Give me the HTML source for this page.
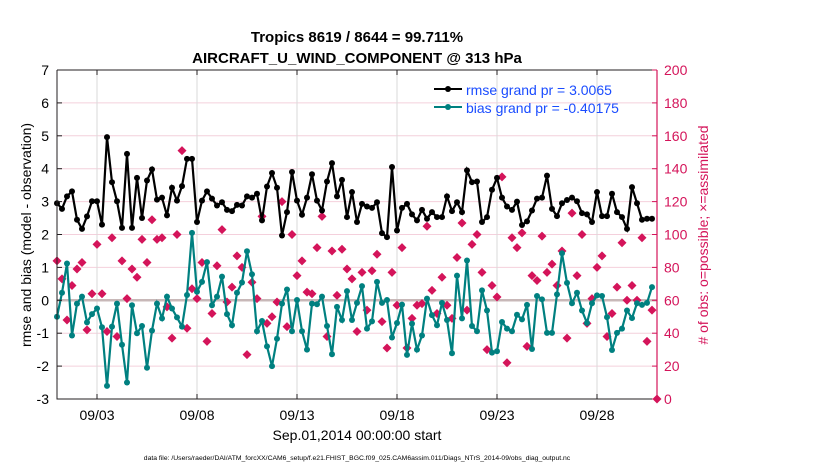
<!DOCTYPE html>
<html><head><meta charset="utf-8"><style>
html,body{margin:0;padding:0;background:#fff;}
svg{display:block;font-family:"Liberation Sans",Arial,sans-serif;}
</style></head><body>
<svg id="chart" width="830" height="470" viewBox="0 0 830 470">
<text x="357" y="42" text-anchor="middle" font-size="15" font-weight="bold">Tropics 8619 / 8644 = 99.711%</text>
<text x="357" y="63" text-anchor="middle" font-size="15" font-weight="bold">AIRCRAFT_U_WIND_COMPONENT @ 313 hPa</text>
<g id="grid"></g><g id="marks"></g><g id="axes"></g>
<text transform="translate(31,235) rotate(-90)" text-anchor="middle" font-size="14">rmse and bias (model - observation)</text>
<text transform="translate(708,235) rotate(-90)" text-anchor="middle" font-size="14" fill="#d4145a"># of obs: o=possible; ×=assimilated</text>
<text x="357" y="440" text-anchor="middle" font-size="14">Sep.01,2014 00:00:00 start</text>
<text x="357" y="460" text-anchor="middle" font-size="6.8">data file: /Users/raeder/DAI/ATM_forcXX/CAM6_setup/f.e21.FHIST_BGC.f09_025.CAM6assim.011/Diags_NTrS_2014-09/obs_diag_output.nc</text>
<g>
<line x1="434" y1="89" x2="462" y2="89" stroke="#000" stroke-width="2"/><circle cx="448" cy="89" r="3" fill="#000"/>
<text x="466" y="95" font-size="14" fill="#1a4cff">rmse grand pr = 3.0065</text>
<line x1="434" y1="107" x2="462" y2="107" stroke="#008080" stroke-width="2"/><circle cx="448" cy="107" r="3" fill="#008080"/>
<text x="466" y="113" font-size="14" fill="#1a4cff">bias grand pr = -0.40175</text>
</g>
</svg>
<script>
const tickDays=[3,8,13,18,23,28];
const tickLabels=["09/03","09/08","09/13","09/18","09/23","09/28"];
const leftTicks=[-3,-2,-1,0,1,2,3,4,5,6,7];
const rightTicks=[0,20,40,60,80,100,120,140,160,180,200];
const rmse=[2.95,2.78,3.16,3.31,2.45,2.17,2.55,3.01,3.01,2.3,4.96,3.59,3.01,2.2,4.45,2.2,3.72,2.5,3.64,3.98,3.06,3.12,2.58,3.42,3.03,3.47,4.3,4.3,2.38,3.03,3.31,
3.09,2.88,2.98,2.75,2.71,2.9,2.88,3.16,3.12,3.24,2.43,3.46,3.87,3.42,1.97,2.68,3.9,3.03,2.6,3.12,3.83,3.03,2.73,3.61,4.17,3.16,3.66,2.53,3.29,2.38,
2.93,2.85,2.81,2.98,2.04,1.92,4.05,2.12,2.81,2.93,2.61,2.43,2.75,2.48,2.68,2.53,2.53,3.16,2.71,2.98,2.68,3.95,3.59,3.61,2.38,2.53,3.36,3.72,3.12,2.85,
2.75,3.0,2.29,2.4,2.73,3.09,3.12,3.79,2.78,2.56,2.95,3.05,3.12,3.01,2.65,2.61,2.38,3.29,2.56,2.56,3.24,2.68,2.53,2.17,3.44,2.95,2.45,2.48,2.48];
const bias=[-0.5,0.23,1.12,-1.07,-0.1,0.11,-0.67,-0.42,-0.25,-0.82,-2.6,-0.8,-0.1,-1.35,-2.5,-0.15,-1.0,-0.78,-2.05,-0.92,-0.1,-0.55,0.11,-0.25,-0.52,-0.8,0.16,2.05,0.26,0.56,1.16,
-0.15,0.11,0.72,-0.42,-0.76,0.23,0.54,1.49,0.79,-0.94,-0.63,-1.4,-2.0,-1.17,-0.1,0.33,-0.94,0.01,-0.94,-1.5,-0.1,-0.12,0.11,-0.78,-1.64,-0.2,-0.6,0.28,-0.6,-0.08,
0.43,-0.86,-0.64,0.56,-0.08,0.01,-1.13,-0.69,-0.13,-1.66,-0.71,-1.5,-1.07,0.05,-0.45,-0.76,-0.08,-0.6,-1.61,0.75,-0.55,1.21,-0.78,-0.94,0.3,-0.31,-1.59,-1.55,-0.66,-0.86,
-0.94,-0.44,-0.58,-0.14,-1.48,0.13,0.03,-0.99,-0.99,0.18,1.43,0.53,-0.09,0.23,-0.31,-0.69,-0.09,0.15,0.13,-0.51,-1.51,-0.99,-0.86,-0.31,-0.54,-0.09,-0.14,-0.08,0.40];
const nobs=[84,73,48,69,79,83,42,64,94,64,41,98,38,84,61,79,74,97,83,109,97,98,56,37,100,151,43,67,61,83,35,
52,81,103,59,68,87,80,27,71,61,111,46,50,59,120,44,100,75,84,65,64,92,111,38,90,63,91,79,73,41,
77,54,78,88,47,31,77,57,92,31,49,57,58,105,66,52,74,57,49,86,107,54,94,100,77,30,69,62,135,22,
98,92,101,32,75,72,99,77,82,69,90,37,113,75,100,46,61,80,87,38,52,68,95,60,69,60,98,35,54,0];
const X0=57,X1=657,Y0=70,Y1=399,T0=1,T1=31;
const xs=t=>X0+(t-T0)/(T1-T0)*(X1-X0);
const yL=v=>Y1-(v+3)/10*(Y1-Y0);
const yR=v=>Y1-v/200*(Y1-Y0);
const tOf=i=>1+i*0.25;
const NS="http://www.w3.org/2000/svg";
function mk(tag,attrs,parent){const e=document.createElementNS(NS,tag);for(const k in attrs)e.setAttribute(k,attrs[k]);parent.appendChild(e);return e;}
const grid=document.getElementById('grid'),marks=document.getElementById('marks'),axes=document.getElementById('axes');
rightTicks.forEach(v=>{const l=mk('line',{x1:X0,x2:X1,y1:yR(v),y2:yR(v),stroke:'#f4d0dc','stroke-width':1},grid);

});
tickDays.forEach(d=>{const l=mk('line',{x1:xs(d),x2:xs(d),y1:Y0,y2:Y1,stroke:'#dadada','stroke-width':1},grid);

});
const zl=mk('line',{x1:X0,x2:X1,y1:yL(0),y2:yL(0),stroke:'#c8b8b8','stroke-width':2.5},grid);


nobs.forEach((v,i)=>{const x=xs(tOf(i)),y=yR(v);
const p=mk('path',{d:`M${x-4.5},${y}L${x},${y-4.5}L${x+4.5},${y}L${x},${y+4.5}Z`,fill:'#d4145a'},marks);

});
function series(arr,color,name){
const pts=arr.map((v,i)=>xs(tOf(i)).toFixed(1)+','+yL(v).toFixed(1)).join(' ');
const pl=mk('polyline',{points:pts,fill:'none',stroke:color,'stroke-width':2.2},marks);


arr.forEach((v,i)=>{const c=mk('circle',{cx:xs(tOf(i)),cy:yL(v),r:3,fill:color},marks);

});}
series(bias,'#008080','bias');
series(rmse,'#000000','rmse');
const fr=mk('path',{d:`M${X0},${Y0}H${X1}M${X0},${Y0}V${Y1}H${X1}`,stroke:'#231f20',fill:'none','stroke-width':1},axes);


const ra=mk('line',{x1:X1,x2:X1,y1:Y0,y2:Y1,stroke:'#d4145a','stroke-width':1.2},axes);


leftTicks.forEach(v=>{const y=yL(v);mk('line',{x1:X0,x2:X0+5,y1:y,y2:y,stroke:'#231f20'},axes);
const t=mk('text',{x:X0-8,y:y+5,'text-anchor':'end','font-size':14},axes);t.textContent=v;

});
rightTicks.forEach(v=>{const y=yR(v);mk('line',{x1:X1-5,x2:X1,y1:y,y2:y,stroke:'#d4145a'},axes);
const t=mk('text',{x:X1+7,y:y+5,'font-size':14,fill:'#d4145a'},axes);t.textContent=v;

});
tickDays.forEach((d,i)=>{const x=xs(d);mk('line',{x1:x,x2:x,y1:Y1,y2:Y1-5,stroke:'#231f20'},axes);
mk('line',{x1:x,x2:x,y1:Y0,y2:Y0+5,stroke:'#231f20'},axes);
const t=mk('text',{x:x,y:420,'text-anchor':'middle','font-size':14},axes);t.textContent=tickLabels[i];

});
</script>
</body></html>
